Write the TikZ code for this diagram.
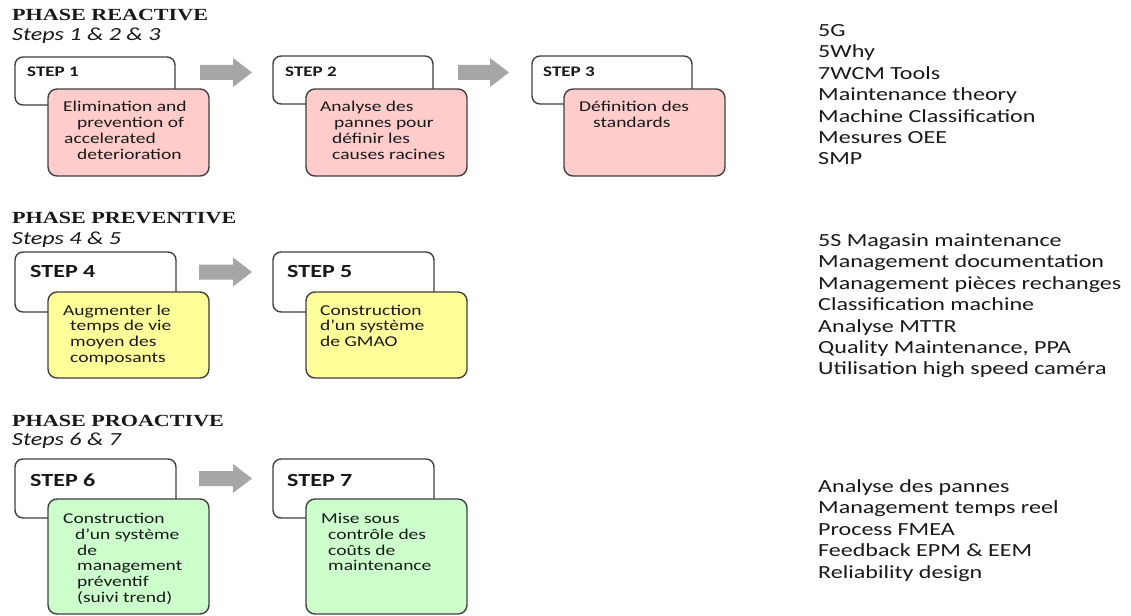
\documentclass[tikz,border=0pt]{standalone}
\usepackage{fontspec}
\newfontfamily\bodyfont{Carlito}[FakeStretch=1.3]
\newfontfamily\headfont{Liberation Serif}[FakeStretch=1.3]
\definecolor{pinkfill}{RGB}{255,204,204}
\definecolor{yellowfill}{RGB}{255,255,153}
\definecolor{greenfill}{RGB}{204,255,204}
\definecolor{boxgray}{RGB}{64,64,64}
\definecolor{arrowgray}{RGB}{166,166,166}
\definecolor{ink}{RGB}{25,25,25}
\tikzset{
  boxline/.style={draw=boxgray, line width=1.4pt},
  wbox/.style={boxline, fill=white, rounded corners=8pt, minimum width=160pt, inner sep=0pt},
  cbox/.style={boxline, rounded corners=9pt, minimum width=161pt, inner sep=0pt},
  txt/.style={anchor=base west, inner sep=0pt, text=ink, font=\bodyfont\fontsize{15}{16}\selectfont},
  listtxt/.style={anchor=base west, inner sep=0pt, text=ink, font=\bodyfont\fontsize{18.5}{21.4}\selectfont},
  smalllab/.style={anchor=base west, inner sep=0pt, text=ink, font=\bodyfont\bfseries\fontsize{14.6}{16}\selectfont},
  biglab/.style={anchor=base west, inner sep=0pt, text=ink, font=\bodyfont\bfseries\fontsize{18.5}{21}\selectfont},
  phase/.style={anchor=base west, inner sep=0pt, text=ink, font=\headfont\bfseries\fontsize{17}{20}\selectfont},
  stepsub/.style={anchor=base west, inner sep=0pt, text=ink, font=\bodyfont\itshape\fontsize{18.5}{21}\selectfont},
}
\newcommand\blockarrow[3]{%
  \fill[arrowgray] (#1,{#3-7.5}) -- ({#2-19},{#3-7.5}) -- ({#2-19},{#3-14.5}) -- (#2,#3)
    -- ({#2-19},{#3+14.5}) -- ({#2-19},{#3+7.5}) -- (#1,{#3+7.5}) -- cycle;}
\begin{document}
\begin{tikzpicture}[x=1pt,y=-1pt]
\useasboundingbox (0,0) rectangle (1131,615);
\fill[white] (0,0) rectangle (1131,615);

% ---------- Phase reactive ----------
\node[phase] (ph1) at (12,21) {PHASE REACTIVE};
\node[stepsub] (st1) at (12,41) {Steps 1 \& 2 \& 3};

\node[wbox, minimum height=48pt] (w1) at (95,81) {};
\node[cbox, fill=pinkfill, minimum height=87pt] (c1) at (128.5,132.5) {};
\node[smalllab] (l1) at (27,77) {STEP 1};
\foreach \d/\t [count=\i] in {0/Elimination and, 14/prevention of, 1/accelerated, 14/deterioration}
  \node[txt] (t1-\i) at ({63+\d},{112+15.8*(\i-1)}) {\t};

\node[wbox, minimum height=48pt] (w2) at (353,80) {};
\node[cbox, fill=pinkfill, minimum height=87pt] (c2) at (386.5,132.5) {};
\node[smalllab] (l2) at (285,77) {STEP 2};
\foreach \d/\t [count=\i] in {0/Analyse des, 14/pannes pour, 12/définir les, 12/causes racines}
  \node[txt] (t2-\i) at ({320+\d},{112+15.8*(\i-1)}) {\t};

\node[wbox, minimum height=48pt] (w3) at (612,80) {};
\node[cbox, fill=pinkfill, minimum height=87pt] (c3) at (644.5,132.5) {};
\node[smalllab] (l3) at (543,77) {STEP 3};
\foreach \d/\t [count=\i] in {0/Définition des, 14/standards}
  \node[txt] (t3-\i) at ({579+\d},{112+15.8*(\i-1)}) {\t};

\blockarrow{200}{252}{72.5}
\blockarrow{458}{509}{72.5}

\foreach \t [count=\i] in {5G, 5Why, 7WCM Tools, Maintenance theory, Machine Classification, Mesures OEE, SMP}
  \node[listtxt] (r1-\i) at (818,{36.5+21.4*(\i-1)}) {\t};

% ---------- Phase preventive ----------
\node[phase] (ph2) at (12,223.5) {PHASE PREVENTIVE};
\node[stepsub] (st2) at (12,244) {Steps 4 \& 5};

\node[wbox, minimum width=161pt, minimum height=60pt] (w4) at (95.5,282) {};
\node[cbox, fill=yellowfill, minimum height=86pt] (c4) at (128.5,335) {};
\node[biglab] (l4) at (30,277.5) {STEP 4};
\foreach \d/\t [count=\i] in {0/Augmenter le, 7/temps de vie, 7/moyen des, 7/composants}
  \node[txt] (t4-\i) at ({63+\d},{315+15.8*(\i-1)}) {\t};

\node[wbox, minimum width=161pt, minimum height=60pt] (w5) at (353.5,282) {};
\node[cbox, fill=yellowfill, minimum height=86pt] (c5) at (386.5,335) {};
\node[biglab] (l5) at (287,277.5) {STEP 5};
\foreach \d/\t [count=\i] in {0/Construction, 0/d’un système, 0/de GMAO}
  \node[txt] (t5-\i) at ({320+\d},{315+15.8*(\i-1)}) {\t};

\blockarrow{199}{252}{272}

\foreach \t [count=\i] in {5S Magasin maintenance, Management documentation, Management pièces rechanges, Classification machine, Analyse MTTR, {Quality Maintenance, PPA}, Utilisation high speed caméra}
  \node[listtxt] (r2-\i) at (818,{246.5+21.4*(\i-1)}) {\t};

% ---------- Phase proactive ----------
\node[phase] (ph3) at (12,426) {PHASE PROACTIVE};
\node[stepsub] (st3) at (12,445) {Steps 6 \& 7};

\node[wbox, minimum width=161pt, minimum height=59pt] (w6) at (95.5,488.5) {};
\node[cbox, fill=greenfill, minimum height=115pt] (c6) at (128.5,556.5) {};
\node[biglab] (l6) at (30,486) {STEP 6};
\foreach \d/\t [count=\i] in {0/Construction, 12/d’un système, 14/de, 14/management, 14/préventif, 14/(suivi trend)}
  \node[txt] (t6-\i) at ({63+\d},{523.5+15.8*(\i-1)}) {\t};

\node[wbox, minimum width=161pt, minimum height=59pt] (w7) at (353.5,488.5) {};
\node[cbox, fill=greenfill, minimum height=115pt] (c7) at (386.5,556.5) {};
\node[biglab] (l7) at (287,486) {STEP 7};
\foreach \d/\t [count=\i] in {0/Mise sous, 7/contrôle des, 7/coûts de, 7/maintenance}
  \node[txt] (t7-\i) at ({321+\d},{523.5+15.8*(\i-1)}) {\t};

\blockarrow{199}{252}{478.5}

\foreach \t [count=\i] in {Analyse des pannes, Management temps reel, Process FMEA, Feedback EPM \& EEM, Reliability design}
  \node[listtxt] (r3-\i) at (818,{492.5+21.4*(\i-1)}) {\t};
\end{tikzpicture}
\end{document}
